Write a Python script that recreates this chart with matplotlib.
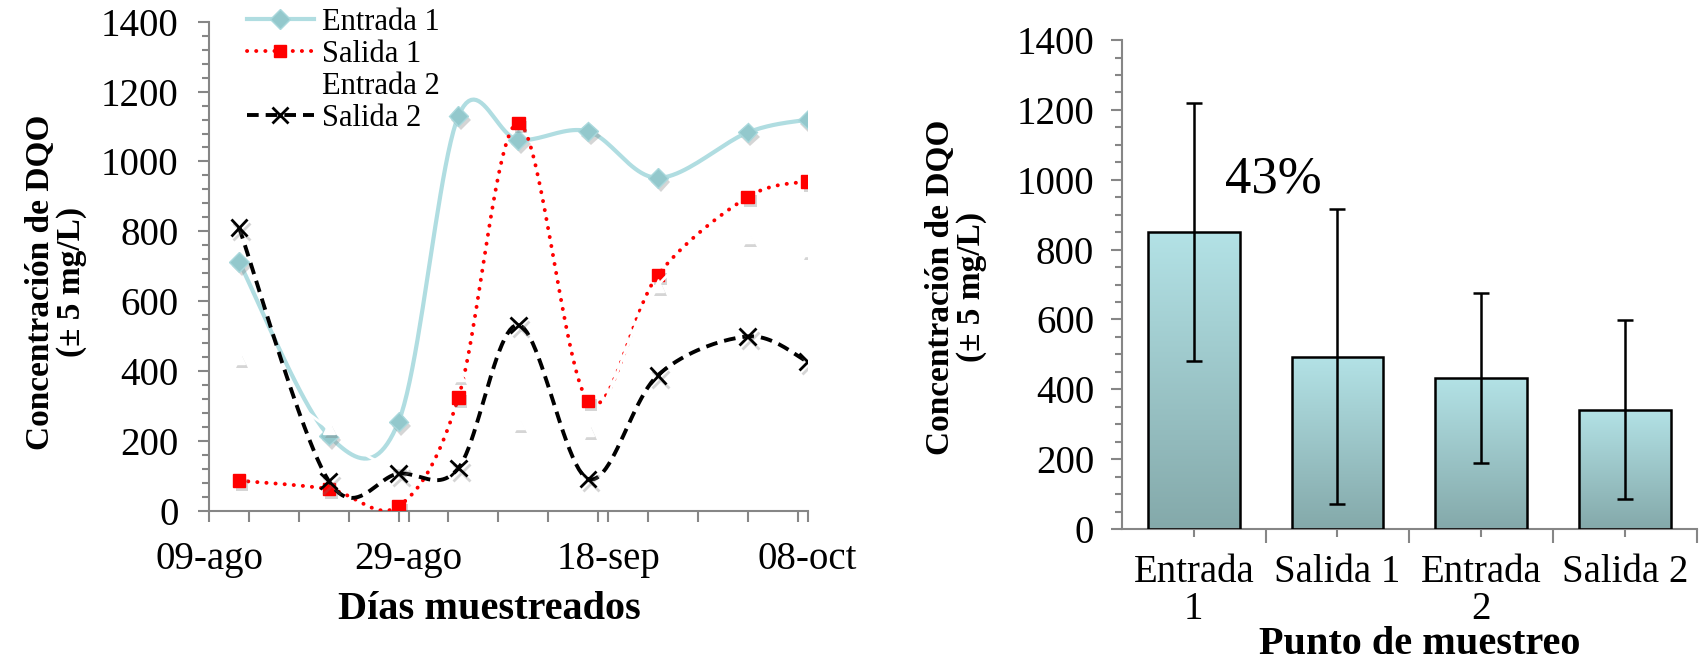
import numpy as np
import matplotlib
matplotlib.use('Agg')
import matplotlib.pyplot as plt
import matplotlib.dates as mdates
import matplotlib.patheffects as pe
from matplotlib.ticker import MultipleLocator, FixedLocator
from matplotlib.colors import LinearSegmentedColormap

plt.rcParams['font.family'] = ['Liberation Serif', 'DejaVu Serif']

# datos: días muestreados y DQO (mg/L)
fechas = np.array(['2013-08-12', '2013-08-21', '2013-08-28', '2013-09-03', '2013-09-09',
                   '2013-09-16', '2013-09-23', '2013-10-02', '2013-10-08'], dtype='datetime64[D]')
entrada1 = [713, 215, 255, 1130, 1062, 1086, 953, 1083, 1120]
salida1 = [86, 62, 13, 324, 1110, 314, 675, 898, 943]
entrada2 = [437, 237, 140, 389, 252, 233, 645, 784, 747]
salida2 = [811, 85, 106, 122, 532, 91, 388, 499, 427]

fechas_ticks = np.array(['2013-08-09', '2013-08-29', '2013-09-18', '2013-10-08'], dtype='datetime64[D]')
etiquetas_fechas = ['09-ago', '29-ago', '18-sep', '08-oct']

# promedios y desviaciones
puntos = ['Entrada\n1', 'Salida 1', 'Entrada\n2', 'Salida 2']
promedios = [850, 493, 433, 342]
desviaciones = [369, 422, 243, 257]
remocion = '43%'


def suave(x, y, n=24):
    # curva suavizada tipo Excel (Bezier con tangentes Catmull-Rom)
    x = np.asarray(x, float)
    y = np.asarray(y, float)
    px = np.concatenate([[x[0]], x, [x[-1]]])
    py = np.concatenate([[y[0]], y, [y[-1]]])
    xs, ys = [], []
    t = np.linspace(0, 1, n)[:, None]
    for i in range(1, len(px) - 2):
        p0 = np.array([px[i - 1], py[i - 1]])
        p1 = np.array([px[i], py[i]])
        p2 = np.array([px[i + 1], py[i + 1]])
        p3 = np.array([px[i + 2], py[i + 2]])
        c1 = p1 + (p2 - p0) / 6
        c2 = p2 - (p3 - p1) / 6
        b = (1 - t) ** 3 * p1 + 3 * (1 - t) ** 2 * t * c1 + 3 * (1 - t) * t ** 2 * c2 + t ** 3 * p2
        xs.append(b[:, 0])
        ys.append(b[:, 1])
    return np.concatenate(xs), np.concatenate(ys)


gris = '#868686'
sombra = [pe.SimplePatchShadow(offset=(2, -3), shadow_rgbFace='#777777', alpha=0.3), pe.Normal()]
sombra_x = [pe.SimpleLineShadow(offset=(2, -3), shadow_color='#777777', alpha=0.3), pe.Normal()]

fig = plt.figure(figsize=(17, 6.63), dpi=100)
ax1 = fig.add_axes([0.123, 0.2297, 0.352, 0.7375])
ax2 = fig.add_axes([0.66, 0.202, 0.338, 0.7376])

x = mdates.date2num(fechas)

# ---- grafica izquierda: series en el tiempo
sx, sy = suave(x, entrada1)
ax1.plot(sx, sy, color='#b0dde1', lw=3, zorder=2)
ax1.plot(x, entrada1, ls='none', marker='D', ms=10, color='#93c8cc', mec='#a9d8dc',
         path_effects=sombra, zorder=2.1)

sx, sy = suave(x, salida1)
ax1.plot(sx, sy, color='#ff0000', lw=2.8, ls=(0, (0.05, 2.3)), dash_capstyle='round', zorder=3)
ax1.plot(x, salida1, ls='none', marker='s', ms=9, color='#ff0000', path_effects=sombra, zorder=3.1)

sx, sy = suave(x, entrada2)
ax1.plot(sx, sy, color='white', lw=2, zorder=4)
ax1.plot(x, entrada2, ls='none', marker='^', ms=9, color='white', mec='white',
         path_effects=sombra, zorder=4.1)

sx, sy = suave(x, salida2)
ax1.plot(sx, sy, color='black', lw=2.8, ls=(0, (3, 1.8)), zorder=5)
ax1.plot(x, salida2, ls='none', marker='x', ms=12, mew=2, color='black', path_effects=sombra_x, zorder=5.1)

# leyenda (Entrada 2 queda en blanco)
ax1.plot([], [], color='#b0dde1', lw=3, marker='D', ms=10, mfc='#93c8cc', mec='#a9d8dc', label='Entrada 1')
ax1.plot([], [], color='#ff0000', lw=2.8, ls=(0, (0.05, 2.3)), dash_capstyle='round',
         marker='s', ms=9, label='Salida 1')
ax1.plot([], [], color='white', lw=2, marker='^', ms=9, label='Entrada 2')
ax1.plot([], [], color='black', lw=2.8, ls=(0, (3, 1.8)), marker='x', ms=12, mew=2, label='Salida 2')
h, l = ax1.get_legend_handles_labels()
ax1.legend(h[-4:], l[-4:], loc='upper left', bbox_to_anchor=(0.063, 1.029), frameon=False,
           fontsize=22, borderpad=0, borderaxespad=0, labelspacing=0.1,
           handlelength=2.2, handletextpad=0.25)

ax1.set_xlim(mdates.date2num(fechas_ticks[0]), mdates.date2num(fechas_ticks[-1]))
ax1.set_ylim(0, 1400)
ax1.xaxis.set_major_locator(FixedLocator(mdates.date2num(fechas_ticks)))
ax1.set_xticklabels(etiquetas_fechas)
ax1.xaxis.set_minor_locator(MultipleLocator(5))
ax1.yaxis.set_major_locator(MultipleLocator(200))
ax1.yaxis.set_minor_locator(MultipleLocator(40))
ax1.set_xlabel('Días muestreados', fontsize=29, fontweight='bold')
ax1.set_ylabel('Concentración de DQO\n(± 5 mg/L)', fontsize=24, fontweight='bold', linespacing=1.0)
ax1.xaxis.set_label_coords(0.469, -0.165)
ax1.yaxis.set_label_coords(-0.204, 0.468)
ax1.tick_params(axis='x', which='both', length=8, width=1.5, color=gris, labelsize=28, pad=14)
ax1.tick_params(axis='y', which='major', length=8, width=1.5, color=gris, labelsize=28, pad=14)
ax1.tick_params(axis='y', which='minor', length=5, width=1.5, color=gris)

# ---- grafica derecha: promedios con gradiente
pos = np.arange(len(puntos))
barras = ax2.bar(pos, promedios, width=0.64, color='none', edgecolor='black', lw=1.8, zorder=3)
cmap = LinearSegmentedColormap.from_list('grad', ['#84a9aa', '#b3e2e6'])
grad = np.linspace(0, 1, 256)[:, None]
for b in barras:
    im = ax2.imshow(grad, extent=[b.get_x(), b.get_x() + b.get_width(), 0, b.get_height()],
                    origin='lower', aspect='auto', cmap=cmap, zorder=2)
    im.set_clip_path(b)
ax2.errorbar(pos, promedios, yerr=desviaciones, fmt='none', ecolor='black', elinewidth=1.8,
             capsize=6, capthick=1.8, zorder=4)
ax2.text(0.55, 1000, remocion, fontsize=38, ha='center', va='center')

ax2.set_xlim(-0.5, 3.5)
ax2.set_ylim(0, 1400)
ax2.set_xticks(pos)
ax2.set_xticklabels(puntos)
ax2.xaxis.set_minor_locator(FixedLocator(np.append(pos[:-1] + 0.5, 3.5)))
ax2.yaxis.set_major_locator(MultipleLocator(200))
ax2.yaxis.set_minor_locator(MultipleLocator(50))
ax2.set_xlabel('Punto de muestreo', fontsize=29, fontweight='bold')
ax2.set_ylabel('Concentración de DQO\n(± 5 mg/L)', fontsize=24, fontweight='bold', linespacing=1.0)
ax2.xaxis.set_label_coords(0.518, -0.198)
ax2.yaxis.set_label_coords(-0.235, 0.495)
ax2.tick_params(axis='x', which='major', length=6, width=1.5, color=gris, labelsize=28, pad=12)
ax2.tick_params(axis='x', which='minor', length=10, width=1.5, color=gris)
ax2.tick_params(axis='y', which='major', length=8, width=1.5, color=gris, labelsize=28, pad=12)
ax2.tick_params(axis='y', which='minor', length=5, width=1.5, color=gris)
for t in ax2.get_xticklabels():
    t.set_linespacing(1.0)

for ax in (ax1, ax2):
    ax.spines['top'].set_visible(False)
    ax.spines['right'].set_visible(False)
    ax.spines['left'].set_color(gris)
    ax.spines['bottom'].set_color(gris)
    ax.spines['left'].set_linewidth(1.5)
    ax.spines['bottom'].set_linewidth(1.5)

fig.savefig('out.png', dpi=100)
